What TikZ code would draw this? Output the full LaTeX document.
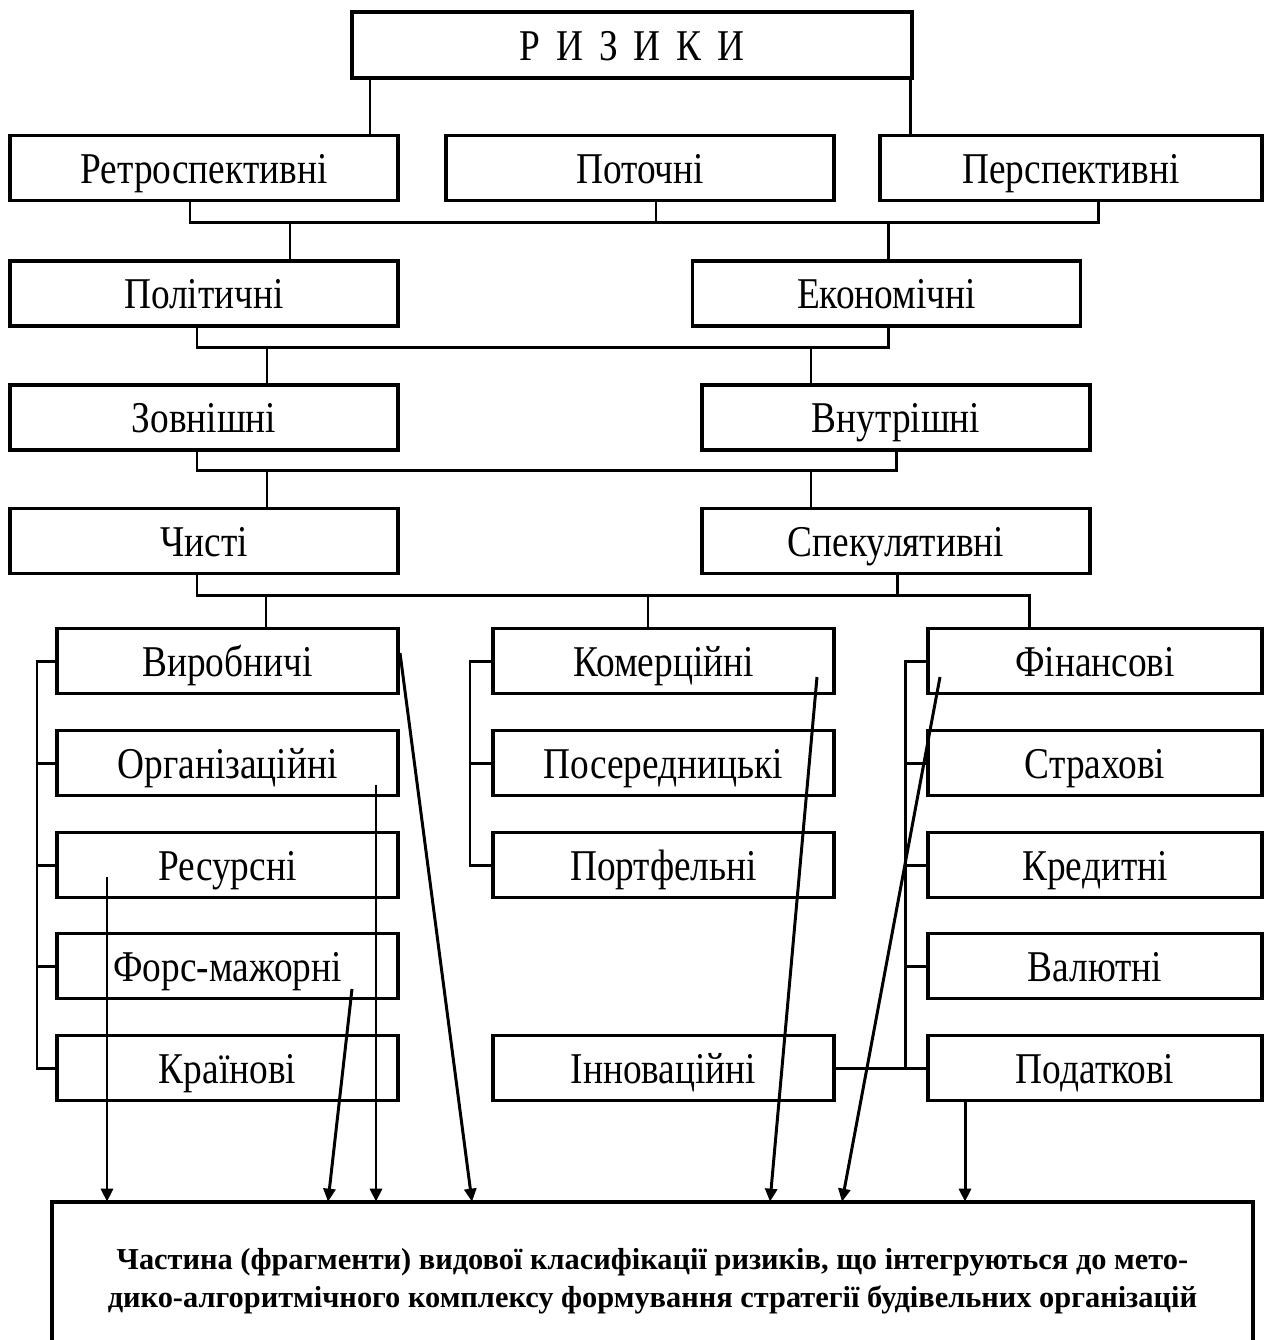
\documentclass[tikz,border=0pt]{standalone}
\usepackage{fontspec}
\setmainfont[FakeStretch=0.85]{Liberation Serif}
\newfontfamily\fragfont{Liberation Serif}
\usetikzlibrary{arrows.meta,calc}
\tikzset{
  kind/.style={draw=black,line width=2.1pt,minimum height=1.3cm,inner sep=0pt,text height=0.75cm,text depth=0.15cm,font=\fontsize{25}{29}\selectfont},
  wide/.style={kind,minimum width=7.76cm},
  sub/.style={kind,minimum width=6.82cm},
  subr/.style={kind,minimum width=6.68cm},
  link/.style={draw=black,line width=1.7pt},
  arr/.style={-{Triangle[length=0.26cm,width=0.24cm]},draw=black,line width=1.7pt},
  frag/.style={minimum width=24.02cm,minimum height=3.16cm,align=center,inner sep=0pt,font=\fragfont\fontsize{17.3}{21.5}\selectfont\bfseries}
}

\begin{document}
\begin{tikzpicture}[x=0.02cm,y=-0.02cm]
  \useasboundingbox (0,0) rectangle (1264,1340);

  \node[kind,minimum width=11.2cm,minimum height=1.32cm] (risk) at (632,45) {{\spaceskip=0.32cm\relax Р И З И К И}};
  \node[wide] (retro) at (204,168) {Ретроспективні};
  \node[wide] (post) at (640,168) {Поточні};
  \node[wide,minimum width=7.64cm] (persp) at (1071,168) {Перспективні};
  \node[wide] (pol) at (204,293.5) {Політичні};
  \node[wide] (econ) at (886.5,293.5) {Економічні};
  \node[wide] (zovn) at (204,417.5) {Зовнішні};
  \node[wide] (vnut) at (896,417.5) {Внутрішні};
  \node[wide] (chys) at (204,541) {Чисті};
  \node[wide] (spek) at (896,541) {Спекулятивні};

  \node[sub] (vyr) at (227.5,661) {Виробничі};
  \node[sub] (org) at (227.5,763) {Організаційні};
  \node[sub] (res) at (227.5,865) {Ресурсні};
  \node[sub] (fm) at (227.5,966) {Форс-мажорні};
  \node[sub] (kra) at (227.5,1068) {Країнові};

  \node[sub] (kom) at (663.5,661) {Комерційні};
  \node[sub] (pos) at (663.5,763) {Посередницькі};
  \node[sub] (port) at (663.5,865) {Портфельні};
  \node[sub] (inn) at (663.5,1068) {Інноваційні};

  \node[subr] (fin) at (1095,661) {Фінансові};
  \node[subr] (str) at (1095,763) {Страхові};
  \node[subr] (kred) at (1095,865) {Кредитні};
  \node[subr] (val) at (1095,966) {Валютні};
  \node[subr] (pod) at (1095,1068) {Податкові};

  \node[frag] (res-box) at (652.5,1281) {Частина (фрагменти) видової класифікації ризиків, що інтегруються до мето-\\дико-алгоритмічного комплексу формування стратегії будівельних організацій};
  \draw[line width=2.1pt] (res-box.south west) -- (res-box.north west) -- (res-box.north east) -- (res-box.south east);

  \draw[link] (risk.south -| 370,0) -- (retro.north -| 370,0);
  \draw[link] (risk.south -| 910,0) -- (persp.north -| 910,0);

  \draw[link] (retro.south -| 190,0) -- (190,222) -- (1098,222) -- (persp.south -| 1098,0);
  \draw[link] (post.south -| 656,0) -- (656,222);
  \draw[link] (290,222) -- (pol.north -| 290,0);
  \draw[link] (888,222) -- (econ.north -| 888,0);

  \draw[link] (pol.south -| 197,0) -- (197,347) -- (888,347) -- (econ.south -| 888,0);
  \draw[link] (267,347) -- (zovn.north -| 267,0);
  \draw[link] (811,347) -- (vnut.north -| 811,0);

  \draw[link] (zovn.south -| 197,0) -- (197,470) -- (896,470) -- (vnut.south -| 896,0);
  \draw[link] (267,470) -- (chys.north -| 267,0);
  \draw[link] (811,470) -- (spek.north -| 811,0);

  \draw[link] (chys.south -| 197,0) -- (197,595) -- (1029,595) -- (fin.north -| 1029,0);
  \draw[link] (spek.south -| 897,0) -- (897,595);
  \draw[link] (266,595) -- (vyr.north -| 266,0);
  \draw[link] (648,595) -- (kom.north -| 648,0);

  \draw[link] (vyr.west) -- (37,0 |- vyr.west) -- (37,0 |- kra.west) -- (kra.west);
  \foreach \n in {org,res,fm}
    \draw[link] (\n.west) -- (37,0 |- \n.west);
  \draw[link] (kom.west) -- (470,0 |- kom.west) -- (470,0 |- port.west) -- (port.west);
  \draw[link] (pos.west) -- (470,0 |- pos.west);
  \draw[link] (fin.west) -- (905,0 |- fin.west) -- (905,0 |- pod.west);
  \foreach \n in {str,kred,val}
    \draw[link] (\n.west) -- (905,0 |- \n.west);
  \draw[link] (inn.east) -- (pod.west);

  \coordinate (s1) at (107,877);
  \coordinate (s2) at (352,989);
  \coordinate (s3) at (376,785);
  \coordinate (s4) at (400,653);
  \coordinate (s5) at (817,677);
  \coordinate (s6) at (940,677);
  \draw[arr] (s1) -- (s1 |- res-box.north);
  \draw[arr] (s2) -- (328,0 |- res-box.north);
  \draw[arr] (s3) -- (s3 |- res-box.north);
  \draw[arr] (s4) -- (472,0 |- res-box.north);
  \draw[arr] (s5) -- (770,0 |- res-box.north);
  \draw[arr] (s6) -- (842,0 |- res-box.north);
  \draw[arr] (pod.south -| 965,0) -- (965,0 |- res-box.north);
\end{tikzpicture}
\end{document}
